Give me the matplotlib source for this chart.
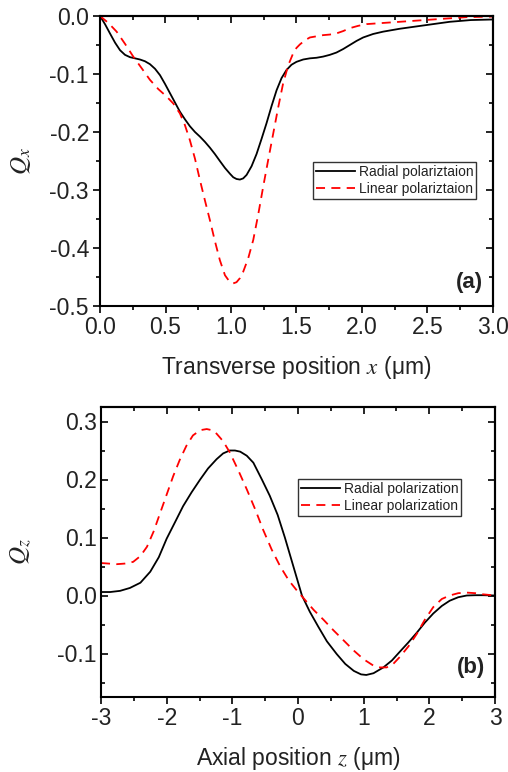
import matplotlib
matplotlib.use("Agg")
import matplotlib.pyplot as plt
from matplotlib.ticker import MultipleLocator, FuncFormatter

plt.rcParams['font.family'] = ['Liberation Sans', 'DejaVu Sans']
plt.rcParams['mathtext.fontset'] = 'stix'

# Panel (a): transverse position x (um) vs Q_x
xa_radial = [0, 0.038, 0.076, 0.115, 0.153, 0.191, 0.229, 0.267, 0.305, 0.343, 0.381, 0.420,
             0.458, 0.496, 0.534, 0.572, 0.610, 0.648, 0.686, 0.725, 0.763, 0.801, 0.839,
             0.877, 0.915, 0.954, 0.992, 1.017, 1.042, 1.068, 1.093, 1.119, 1.157, 1.195,
             1.233, 1.271, 1.310, 1.348, 1.386, 1.424, 1.462, 1.500, 1.551, 1.602, 1.653,
             1.703, 1.754, 1.805, 1.856, 1.907, 1.958, 2.009, 2.085, 2.161, 2.288, 2.415,
             2.542, 2.670, 2.830, 3.0]
qa_radial = [0, -0.014, -0.030, -0.046, -0.059, -0.067, -0.071, -0.073, -0.075, -0.078, -0.083,
             -0.091, -0.102, -0.117, -0.133, -0.149, -0.165, -0.178, -0.190, -0.200, -0.208,
             -0.217, -0.227, -0.238, -0.250, -0.262, -0.272, -0.278, -0.281, -0.282, -0.280,
             -0.274, -0.259, -0.238, -0.212, -0.185, -0.155, -0.128, -0.107, -0.093, -0.084,
             -0.079, -0.075, -0.073, -0.072, -0.070, -0.067, -0.063, -0.057, -0.050, -0.043,
             -0.037, -0.031, -0.027, -0.022, -0.018, -0.014, -0.010, -0.007, -0.006]
xa_linear = [0, 0.064, 0.127, 0.191, 0.254, 0.318, 0.381, 0.445, 0.509, 0.560, 0.610, 0.648,
             0.686, 0.725, 0.763, 0.801, 0.839, 0.877, 0.915, 0.954, 0.992, 1.017, 1.042,
             1.068, 1.093, 1.131, 1.170, 1.208, 1.246, 1.284, 1.322, 1.360, 1.398, 1.437,
             1.475, 1.500, 1.526, 1.564, 1.602, 1.653, 1.703, 1.754, 1.805, 1.856, 1.907,
             1.970, 2.034, 2.161, 2.288, 2.415, 2.542, 2.670, 2.797, 3.0]
qa_linear = [0, -0.012, -0.027, -0.048, -0.070, -0.090, -0.110, -0.126, -0.139, -0.151, -0.168,
             -0.188, -0.214, -0.246, -0.283, -0.318, -0.352, -0.388, -0.421, -0.447, -0.459,
             -0.461, -0.459, -0.452, -0.441, -0.418, -0.386, -0.342, -0.294, -0.248, -0.203,
             -0.158, -0.116, -0.085, -0.064, -0.055, -0.049, -0.042, -0.037, -0.035, -0.033,
             -0.032, -0.030, -0.026, -0.021, -0.017, -0.014, -0.012, -0.010, -0.008, -0.006,
             -0.004, -0.002, -0.001]

# Panel (b): axial position z (um) vs Q_z
zb_radial = [-3, -2.86, -2.71, -2.56, -2.40, -2.25, -2.12, -2.0, -1.87, -1.75, -1.62, -1.49,
             -1.37, -1.24, -1.14, -1.04, -0.96, -0.88, -0.78, -0.68, -0.55, -0.43, -0.31,
             -0.20, -0.07, 0.06, 0.18, 0.31, 0.44, 0.59, 0.72, 0.85, 0.96, 1.04, 1.15,
             1.30, 1.43, 1.55, 1.68, 1.81, 1.93, 2.06, 2.19, 2.31, 2.44, 2.57, 2.70, 2.82, 3.0]
qb_radial = [0.006, 0.006, 0.008, 0.013, 0.022, 0.041, 0.066, 0.098, 0.127, 0.154, 0.178, 0.200,
             0.219, 0.235, 0.245, 0.250, 0.250, 0.248, 0.241, 0.229, 0.200, 0.172, 0.139,
             0.100, 0.050, 0.0, -0.028, -0.054, -0.079, -0.101, -0.118, -0.130, -0.136, -0.137,
             -0.134, -0.124, -0.112, -0.097, -0.081, -0.064, -0.047, -0.031, -0.018, -0.009,
             -0.003, 0.0, 0.0005, 0.0005, 0.0]
zb_linear = [-3, -2.88, -2.76, -2.64, -2.51, -2.40, -2.30, -2.20, -2.10, -2.00, -1.90, -1.80,
             -1.70, -1.60, -1.49, -1.39, -1.31, -1.24, -1.14, -1.04, -0.91, -0.78, -0.65,
             -0.53, -0.40, -0.27, -0.14, -0.02, 0.11, 0.24, 0.39, 0.54, 0.70, 0.85, 1.00,
             1.15, 1.25, 1.35, 1.45, 1.55, 1.68, 1.81, 1.93, 2.06, 2.19, 2.31, 2.44, 2.57,
             2.70, 2.82, 3.0]
qb_linear = [0.056, 0.055, 0.054, 0.055, 0.058, 0.068, 0.084, 0.110, 0.142, 0.174, 0.206, 0.234,
             0.258, 0.276, 0.285, 0.287, 0.285, 0.279, 0.266, 0.247, 0.216, 0.183, 0.148,
             0.113, 0.079, 0.050, 0.026, 0.009, -0.008, -0.025, -0.042, -0.060, -0.078, -0.095,
             -0.110, -0.121, -0.124, -0.124, -0.118, -0.106, -0.088, -0.066, -0.042, -0.020,
             -0.006, 0.0, 0.004, 0.005, 0.004, 0.002, 0.0]

labels_a = ["Radial polariztaion", "Linear polariztaion"]
labels_b = ["Radial polarization", "Linear polarization"]

W, H = 508, 772
fig = plt.figure(figsize=(W / 100, H / 100), dpi=100)

tick_color = '#222222'
TICK_FS = 16.5

def style_axes(ax, xmaj, xmin, ymaj, ymin, left_dir):
    ax.xaxis.set_major_locator(MultipleLocator(xmaj))
    ax.xaxis.set_minor_locator(MultipleLocator(xmin))
    ax.yaxis.set_major_locator(MultipleLocator(ymaj))
    ax.yaxis.set_minor_locator(MultipleLocator(ymin))
    ax.tick_params(axis='x', which='major', direction='out', length=5, width=1.2,
                   labelsize=TICK_FS, labelcolor=tick_color, pad=2)
    ax.tick_params(axis='x', which='minor', direction='out', length=3, width=1.2)
    ax.tick_params(axis='y', which='major', direction=left_dir, length=5, width=1.2,
                   labelsize=TICK_FS, labelcolor=tick_color, pad=3)
    ax.tick_params(axis='y', which='minor', direction=left_dir, length=3, width=1.2)
    for s in ax.spines.values():
        s.set_linewidth(1.5)
    top = ax.secondary_xaxis('top')
    top.xaxis.set_major_locator(MultipleLocator(xmaj))
    top.xaxis.set_minor_locator(MultipleLocator(xmin))
    top.tick_params(which='major', direction='in', length=5, width=1.2, labeltop=False)
    top.tick_params(which='minor', direction='in', length=3, width=1.2)
    top.spines['top'].set_linewidth(1.5)
    right = ax.secondary_yaxis('right')
    right.yaxis.set_major_locator(MultipleLocator(ymaj))
    right.yaxis.set_minor_locator(MultipleLocator(ymin))
    right.tick_params(which='major', direction='in', length=5, width=1.2, labelright=False)
    right.tick_params(which='minor', direction='in', length=3, width=1.2)
    right.spines['right'].set_linewidth(1.5)

def yfmt(v, p):
    s = '%.1f' % v
    return '0.0' if s == '-0.0' else s

def add_legend(ax, labels_anchor):
    leg = ax.legend(loc='upper left', bbox_to_anchor=labels_anchor,
                    bbox_transform=fig.transFigure, fontsize=10, frameon=True, fancybox=False,
                    edgecolor='black', borderpad=0.2, handlelength=2.8, handletextpad=0.3,
                    labelspacing=0.25, borderaxespad=0)
    leg.get_frame().set_linewidth(1.0)
    for t in leg.get_texts():
        t.set_color(tick_color)

# Panel (a)
axa = fig.add_axes([100 / W, 1 - 306 / H, 393 / W, 290 / H])
axa.plot(xa_radial, qa_radial, color='black', lw=1.3, label=labels_a[0])
axa.plot(xa_linear, qa_linear, color='red', lw=1.3, ls=(0, (5, 3.5)), label=labels_a[1])
axa.set_xlim(0, 3.0)
axa.set_ylim(-0.5, 0.0)
style_axes(axa, 0.5, 0.25, 0.1, 0.05, 'out')
axa.xaxis.set_major_formatter(FuncFormatter(lambda v, p: '%.1f' % v))
axa.yaxis.set_major_formatter(FuncFormatter(yfmt))
axa.set_xlabel(r'Transverse position $x$ (μm)', fontsize=16.5, color=tick_color)
axa.xaxis.set_label_coords(0.5, -0.165)
axa.set_ylabel(r'$Q_x$', fontsize=18, color=tick_color)
axa.yaxis.set_label_coords(-0.17, 0.5)
add_legend(axa, (313 / W, 1 - 162 / H))
axa.text(0.975, 0.08, '(a)', transform=axa.transAxes, fontsize=16, fontweight='bold',
         ha='right', va='center', color=tick_color)

# Panel (b)
axb = fig.add_axes([101 / W, 1 - 697 / H, 394 / W, 290 / H])
axb.plot(zb_radial, qb_radial, color='black', lw=1.3, label=labels_b[0])
axb.plot(zb_linear, qb_linear, color='red', lw=1.3, ls=(0, (5, 3.5)), label=labels_b[1])
axb.set_xlim(-3, 3)
axb.set_ylim(-0.175, 0.325)
style_axes(axb, 1, 0.5, 0.1, 0.05, 'in')
axb.xaxis.set_major_formatter(FuncFormatter(lambda v, p: '%d' % round(v)))
axb.yaxis.set_major_formatter(FuncFormatter(yfmt))
axb.set_xlabel(r'Axial position $z$ (μm)', fontsize=16.5, color=tick_color)
axb.xaxis.set_label_coords(0.5, -0.165)
axb.set_ylabel(r'$Q_z$', fontsize=18, color=tick_color)
axb.yaxis.set_label_coords(-0.17, 0.5)
add_legend(axb, (298 / W, 1 - 479 / H))
axb.text(0.975, 0.1, '(b)', transform=axb.transAxes, fontsize=16, fontweight='bold',
         ha='right', va='center', color=tick_color)

fig.savefig('out.png', dpi=100)
